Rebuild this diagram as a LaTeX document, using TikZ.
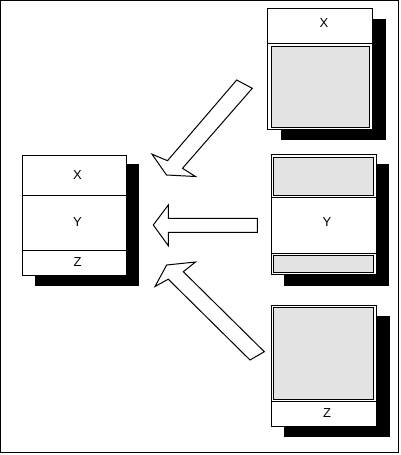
\documentclass[tikz,border=0pt]{standalone}
\usepackage{fontspec}
\setmainfont{Liberation Sans}
\usetikzlibrary{positioning,backgrounds}

\begin{document}
\begin{tikzpicture}[x=1pt,y=-1pt,line width=1pt,line join=miter,
            box/.style={draw,fill=white,inner sep=0pt,outer sep=0pt,minimum width=105.5pt,anchor=north west},
            panel/.style={draw,fill=black!11},
            shade/.style={fill=black},
            blockarrow/.style={draw,fill=white},
            lbl/.style={font=\fontsize{13}{15}\selectfont}
            ]
            \useasboundingbox (0,0) rectangle (400,455);
            \draw (0.5,0.5) rectangle (398,452);

            % Left box
            \node[box,minimum width=104.2pt,minimum height=40.7pt] (lx) at (22.5,155) {};
            \node[box,minimum width=104.2pt,minimum height=54.6pt,below=0pt of lx] (ly) {};
            \node[box,minimum width=104.2pt,minimum height=24.7pt,below=0pt of ly] (lz) {};
            \node[lbl] (lx-t) at (77.5,175) {X};
            \node[lbl] (ly-t) at (77.5,222) {Y};
            \node[lbl] (lz-t) at (77.5,262) {Z};

            % Top right box
            \node[box,minimum width=104.5pt,minimum height=35pt] (tx) at (267.5,8.5) {};
            \node[box,minimum width=104.5pt,minimum height=85.5pt,below=0pt of tx] (tg) {};
            \filldraw[panel] ([shift={(3.5,3)}]tg.north west) rectangle ([shift={(-2.5,-2)}]tg.south east);
            \node[lbl] (tx-t) at (324,23) {X};

            % Middle right box
            \node[box,minimum height=43.3pt] (mg1) at (271,154) {};
            \node[box,minimum height=55.7pt,below=0pt of mg1] (my) {};
            \node[box,minimum height=21.5pt,below=0pt of my] (mg2) {};
            \filldraw[panel] ([shift={(2.7,3.3)}]mg1.north west) rectangle ([shift={(-3.2,-1.6)}]mg1.south east);
            \filldraw[panel] ([shift={(2.7,2)}]mg2.north west) rectangle ([shift={(-3.2,-1.8)}]mg2.south east);
            \node[lbl] (my-t) at (327,222.5) {Y};

            % Bottom right box
            \node[box,minimum height=96.3pt] (bg) at (271,305) {};
            \node[box,minimum height=24.7pt,below=0pt of bg] (bz) {};
            \filldraw[panel] ([shift={(2.7,2.7)}]bg.north west) rectangle ([shift={(-3.2,-2)}]bg.south east);
            \node[lbl] (bz-t) at (327,413) {Z};

            % Shadows
            \begin{scope}[on background layer]
            \fill[shade] ([shift={(12.7,9.3)}]lx.north west) rectangle ([shift={(12.6,10.7)}]lz.south east);
            \fill[shade] ([shift={(13.5,10.5)}]tx.north west) rectangle ([shift={(14,10.5)}]tg.south east);
            \fill[shade] ([shift={(13,10.3)}]mg1.north west) rectangle ([shift={(12.8,11.2)}]mg2.south east);
            \fill[shade] ([shift={(13,11)}]bg.north west) rectangle ([shift={(13.5,10.7)}]bz.south east);
            \end{scope}

            % Arrows
            \draw[blockarrow] (236.7,80) -- (252.3,88.3) -- (182.5,168.3) -- (195.5,176.5)
                  -- (166.5,175) -- (152,154.2) -- (167.5,160.7) -- cycle;
            \draw[blockarrow] (257.3,218.3) -- (168.3,218.3) -- (168.3,205) -- (153.3,225)
                  -- (168.3,245.7) -- (168.3,232.3) -- (257.3,232.3) -- cycle;
            \draw[blockarrow] (264.3,351.7) -- (183.3,271.7) -- (195.5,262) -- (166.7,265)
                  -- (155,286.5) -- (168.3,279.2) -- (250,360) -- cycle;
\end{tikzpicture}
\end{document}
